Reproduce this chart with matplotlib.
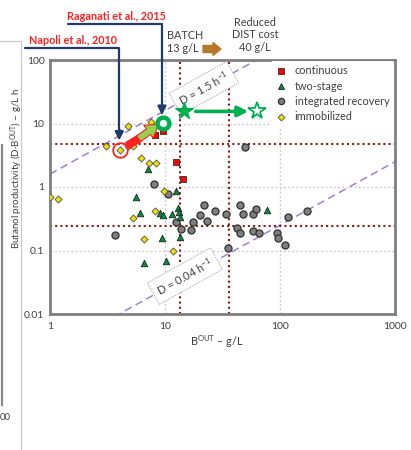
import matplotlib
matplotlib.use("Agg")
import matplotlib.pyplot as plt
import numpy as np
from matplotlib.lines import Line2D

plt.rcParams["font.family"] = ["Lato", "DejaVu Sans"]
plt.rcParams["mathtext.fontset"] = "custom"
plt.rcParams["mathtext.rm"] = "Lato"
plt.rcParams["mathtext.it"] = "Lato:italic"

# data (B_out in g/L, productivity in g/L h)
cont_x = [8.2, 9.7, 12.5, 14.4]
cont_y = [6.5, 7.6, 2.5, 1.35]

two_x = [7.1, 12.5, 5.6, 6.1, 9.1, 9.6, 11.6, 12.9, 13.2, 13.5, 9.4, 13.4, 6.6, 10.2, 77.6]
two_y = [1.9, 0.87, 0.70, 0.385, 0.39, 0.36, 0.38, 0.475, 0.40, 0.34, 0.156, 0.165, 0.063, 0.069, 0.435]

integ_x = [8.0, 10.7, 3.7, 12.5, 13.7, 17.4, 16.7, 21.7, 20.2, 23.0, 27.2, 33.9, 35.3, 44.9,
           48.0, 42.7, 44.9, 57.9, 61.5, 57.7, 66.1, 93.6, 97.0, 110.5, 118.0, 173.0, 49.6]
integ_y = [1.11, 0.78, 0.175, 0.284, 0.218, 0.284, 0.214, 0.52, 0.356, 0.292, 0.42, 0.373, 0.108, 0.52,
           0.376, 0.23, 0.191, 0.38, 0.45, 0.203, 0.191, 0.189, 0.159, 0.123, 0.331, 0.424, 4.27]

immob_x = [1.0, 1.18, 3.05, 4.06, 4.72, 5.3, 4.01, 4.8, 7.5, 6.18, 7.3, 8.3, 9.9, 5.24, 8.23, 6.54, 11.7]
immob_y = [0.70, 0.64, 4.47, 3.76, 4.5, 4.42, 7.43, 9.1, 10.4, 2.89, 2.41, 2.41, 0.865, 0.33, 0.414, 0.15, 0.097]

napoli = (4.06, 3.76)
raganati = (9.67, 10.3)
star_batch = (14.7, 15.5)
star_dist = (63.5, 15.5)

batch_b = 13.5
dist_b = 36
prod_hi = 4.8
prod_lo = 0.24

# dilution rate lines (y = D * x), slopes as drawn
d_hi = 1.6
d_lo = 0.0025

fig = plt.figure(figsize=(4.11, 4.5), dpi=100)
ax = fig.add_axes([50 / 411, 136 / 450, 345 / 411, 254 / 450])
ax.set_xscale("log")
ax.set_yscale("log")
ax.set_xlim(1, 1000)
ax.set_ylim(0.01, 100)

ax.grid(True, which="major", color="#d0d0d0", linestyle=(0, (1.5, 1.5)), linewidth=1)
ax.minorticks_off()
ax.tick_params(length=0, labelsize=7.5, labelcolor="#404040", pad=6)
ax.set_xticks([1, 10, 100, 1000])
ax.set_xticklabels(["1", "10", "100", "1000"])
ax.set_yticks([0.01, 0.1, 1, 10, 100])
ax.set_yticklabels(["0.01", "0.1", "1", "10", "100"])
ax.tick_params(axis="y", pad=4)
for s in ax.spines.values():
    s.set_color("#7f7f7f")
    s.set_linewidth(2)

# D lines
xx = np.array([1, 1000])
ax.plot(xx, d_hi * xx, color="#a080d0", ls=(0, (5, 3)), lw=1.1, zorder=2)
ax.plot(xx, d_lo * xx, color="#a080d0", ls=(0, (5, 3)), lw=1.1, zorder=2)

# batch / distillation cut-offs
red_dot = dict(color="#8b1a1a", ls=(0, (1, 1.5)), lw=1.5, zorder=2)
ax.axvline(batch_b, **red_dot)
ax.axvline(dist_b, **red_dot)
ax.axhline(prod_hi, **red_dot)
ax.axhline(prod_lo, **red_dot)

ax.scatter(integ_x, integ_y, s=26, marker="o", c="#7f7f7f", edgecolors="#303030", linewidths=0.9,
           zorder=4, label="integrated recovery")
ax.scatter(two_x, two_y, s=22, marker="^", c="#009040", edgecolors="#202020", linewidths=0.6,
           zorder=5, label="two-stage")
ax.scatter(immob_x, immob_y, s=13, marker="D", c="#f0e000", edgecolors="#505050", linewidths=0.6,
           zorder=5, label="immobilized")
ax.scatter(cont_x, cont_y, s=24, marker="s", c="#ff0000", edgecolors="#404040", linewidths=0.7,
           zorder=5, label="continuous")

# highlighted works
ax.plot(*napoli, marker="o", ms=10.5, mfc="none", mec="#ff2020", mew=1.3, zorder=6)
ax.plot(*raganati, marker="o", ms=8.5, mfc="white", mec="#00b050", mew=3.2, zorder=8)
ax.plot([4.67, 6.1], [4.45, 5.95], color="#ff2020", lw=6, solid_capstyle="butt", zorder=6)
ax.annotate("", xy=(8.8, 9.7), xytext=(5.9, 5.75),
            arrowprops=dict(arrowstyle="simple,head_length=0.9,head_width=1.15,tail_width=0.5",
                            fc="#92d050", ec="#ff2020", lw=0.8, shrinkA=0, shrinkB=0), zorder=7)

# stars and shift arrow
ax.plot(*star_batch, marker="*", ms=13, color="#00b050", zorder=7)
ax.plot(*star_dist, marker="*", ms=13, mfc="white", mec="#00b050", mew=1.3, zorder=7)
ax.annotate("", xy=(53, 15.5), xytext=(18.5, 15.5),
            arrowprops=dict(arrowstyle="-|>,head_length=0.6,head_width=0.3", color="#00b050",
                            lw=2.6, shrinkA=0, shrinkB=0), zorder=7)

box = dict(boxstyle="square,pad=0.45", fc="white", ec="#b0b0b0", lw=0.6, ls=(0, (2, 1)))
ax.text(21.8, 36.0, "D = 1.5 h$^{-1}$", rotation=29, ha="center", va="center", fontsize=8,
        color="#404040", bbox=box, zorder=6)
ax.text(14.9, 0.0395, "D = 0.04 h$^{-1}$", rotation=29, ha="center", va="center", fontsize=8,
        color="#404040", bbox=box, zorder=6)

# call-outs for the two papers
navy = "#1f3a6e"
ax.annotate("", xy=(4.0, 5.4), xycoords="data", xytext=(25 / 411, 1 - 48 / 450),
            textcoords="figure fraction",
            arrowprops=dict(arrowstyle="-|>,head_length=0.5,head_width=0.25", color=navy, lw=1.6,
                            connectionstyle="angle,angleA=0,angleB=90,rad=0", shrinkA=0, shrinkB=0),
            annotation_clip=False, zorder=9)
ax.annotate("", xy=(9.4, 13.6), xycoords="data", xytext=(68 / 411, 1 - 24 / 450),
            textcoords="figure fraction",
            arrowprops=dict(arrowstyle="-|>,head_length=0.5,head_width=0.25", color=navy, lw=1.6,
                            connectionstyle="angle,angleA=0,angleB=90,rad=0", shrinkA=0, shrinkB=0),
            annotation_clip=False, zorder=9)
fig.text(29 / 411, 1 - 41 / 450, "Napoli et al., 2010", color="#ff2020", fontsize=7.8,
         fontweight="bold", va="center", ha="left")
fig.text(67 / 411, 1 - 16 / 450, "Raganati et al., 2015", color="#ff2020", fontsize=7.8,
         fontweight="bold", va="center", ha="left")

fig.text(167 / 411, 1 - 42 / 450, "BATCH\n13 g/L", color="#404040", fontsize=7.8,
         va="center", ha="left", linespacing=1.2)
fig.text(255 / 411, 1 - 35 / 450, "Reduced\nDIST cost\n40 g/L", color="#404040", fontsize=7.8,
         va="center", ha="center", linespacing=1.2)
fig.patches.append(matplotlib.patches.FancyArrow(
    203 / 411, 1 - 49 / 450, 18 / 411, 0, width=7 / 450, head_width=13 / 450, head_length=8 / 411,
    length_includes_head=True, color="#b8782a", transform=fig.transFigure, figure=fig))

leg = ax.legend(handles=[
    Line2D([], [], ls="", marker="s", ms=4.5, mfc="#ff0000", mec="#404040", mew=0.7),
    Line2D([], [], ls="", marker="^", ms=4.5, mfc="#009040", mec="#202020", mew=0.6),
    Line2D([], [], ls="", marker="o", ms=4.5, mfc="#7f7f7f", mec="#303030", mew=0.9),
    Line2D([], [], ls="", marker="D", ms=3.5, mfc="#f0e000", mec="#505050", mew=0.6)],
    labels=["continuous", "two-stage", "integrated recovery", "immobilized"],
    loc="upper right", bbox_to_anchor=(1.0, 1.0), fontsize=7.8, frameon=True,
    handlelength=1.0, handletextpad=0.8, labelspacing=0.4, borderpad=0.4, borderaxespad=0.1)
leg.get_frame().set_edgecolor("none")
leg.get_frame().set_facecolor("white")
leg.get_frame().set_alpha(1)
for t in leg.get_texts():
    t.set_color("#404040")
leg.set_zorder(3)

fig.text(17 / 411, 1 - 169 / 450, "Butanol productivity (D·B$^{\\mathrm{OUT}}$) – g/L h", rotation=90,
         fontsize=7, color="#404040", ha="center", va="center")
fig.text(217 / 411, 1 - 342 / 450, "B$^{\\mathrm{OUT}}$ – g/L", fontsize=7.8, color="#404040",
         ha="center", va="center")

# bits of neighbouring panels at the left edge
fig.add_artist(Line2D([20.7 / 411, 20.7 / 411, 0], [0, 1 - 41 / 450, 1 - 41 / 450],
                      color="#c8c8c8", lw=0.8, transform=fig.transFigure))
fig.add_artist(Line2D([1.5 / 411, 1.5 / 411], [1 - 145 / 450, 1 - 405 / 450],
                      color="#8a8a8a", lw=1.6, transform=fig.transFigure))
fig.text(0, 1 - 417 / 450, "00", fontsize=7, color="#404040", ha="left", va="center")

fig.savefig("out.png", dpi=100)
